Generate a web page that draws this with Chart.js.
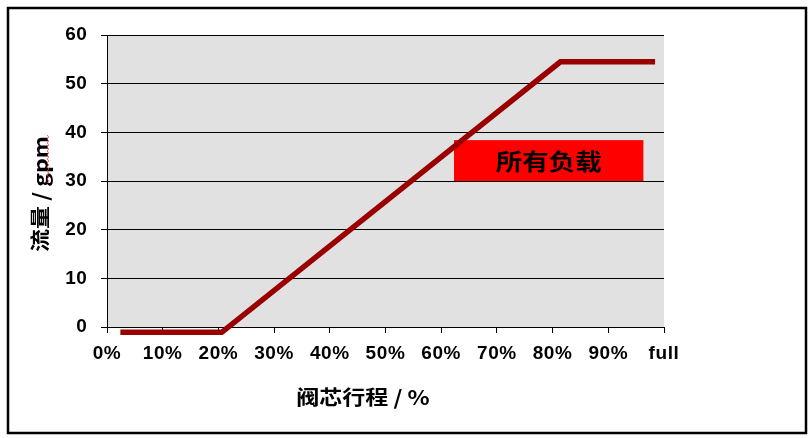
<!DOCTYPE html>
<html>
<head>
<meta charset="utf-8">
<script src="https://cdn.jsdelivr.net/npm/chart.js@4.4.1/dist/chart.umd.min.js"></script>
<style>
  html, body { margin: 0; padding: 0; background: #ffffff; }
  #wrap { width: 812px; height: 438px; }
</style>
</head>
<body>
<div id="wrap"><canvas id="c" width="812" height="438"></canvas></div>
<script>
// ---- data ----
const xTickLabels = ['0%', '10%', '20%', '30%', '40%', '50%', '60%', '70%', '80%', '90%', 'full'];
const strokePct = [2.4, 20.6, 81.4, 98.4];
const flowGpm = [-1.1, -1.1, 54.5, 54.5];
const yTicks = [0, 10, 20, 30, 40, 50, 60];
const boxLabel = '所有负载';
const boxX = [62.3, 96.3];
const boxY = [30, 38.4];
const xTitle = '阀芯行程 / %';
const yTitle = '流量 / gpm';

const LATIN = '"Liberation Sans", Arial, sans-serif';
const CJK = '"Noto Sans CJK SC", "Liberation Sans", sans-serif';

function wideText(ctx, text, x, y, sx) {
  ctx.save();
  ctx.translate(x, y);
  ctx.scale(sx, 1);
  ctx.fillText(text, 0, 0);
  ctx.restore();
}

const framePlugin = {
  id: 'framePlugin',
  beforeDraw(chart) {
    const ctx = chart.ctx, a = chart.chartArea;
    ctx.fillStyle = '#ffffff';
    ctx.fillRect(0, 0, chart.width, chart.height);
    ctx.fillStyle = '#e1e1e1';
    ctx.fillRect(a.left, a.top, a.right - a.left, a.bottom - a.top);
    ctx.letterSpacing = '0.6px';
  },
  beforeDatasetsDraw(chart) {
    const ctx = chart.ctx;
    const xs = chart.scales.x, ys = chart.scales.y;
    const x0 = xs.getPixelForValue(boxX[0]), x1 = xs.getPixelForValue(boxX[1]);
    const y0 = ys.getPixelForValue(boxY[1]), y1 = ys.getPixelForValue(boxY[0]);
    ctx.save();
    ctx.fillStyle = '#ff0000';
    ctx.fillRect(x0, y0, x1 - x0, y1 - y0);
    ctx.fillStyle = '#000000';
    ctx.font = 'bold 23px ' + CJK;
    ctx.letterSpacing = '0px';
    ctx.textAlign = 'center';
    ctx.textBaseline = 'middle';
    wideText(ctx, boxLabel, (x0 + x1) / 2, (y0 + y1) / 2 + 1, 1.15);
    ctx.restore();
  },
  afterDraw(chart) {
    const ctx = chart.ctx;
    ctx.save();
    ctx.letterSpacing = '0px';
    // outer frame
    ctx.strokeStyle = '#000000';
    ctx.lineWidth = 2.5;
    ctx.strokeRect(8, 8, 798, 425);
    // axis titles
    ctx.fillStyle = '#000000';
    ctx.textBaseline = 'middle';
    ctx.textAlign = 'center';
    ctx.font = 'bold 20px ' + CJK;
    wideText(ctx, xTitle, 363, 397, 1.15);
    ctx.save();
    ctx.translate(40, 194);
    ctx.rotate(-Math.PI / 2);
    wideText(ctx, yTitle, 0, 0, 1.15);
    ctx.restore();
    // spell-check squiggle along "gpm"
    ctx.strokeStyle = '#ff4444';
    ctx.lineWidth = 0.8;
    ctx.beginPath();
    for (let y = 135, k = 0; y <= 183; y += 2, k++) {
      const x = 48 + (k % 2 ? 0.8 : -0.8);
      if (k === 0) ctx.moveTo(x, y); else ctx.lineTo(x, y);
    }
    ctx.stroke();
    ctx.restore();
  }
};

new Chart(document.getElementById('c'), {
  type: 'line',
  data: {
    datasets: [{
      data: strokePct.map((x, i) => ({ x: x, y: flowGpm[i] })),
      borderColor: '#990000',
      borderWidth: 5.5,
      pointRadius: 0,
      tension: 0,
      fill: false,
      clip: false,
      borderCapStyle: 'butt',
      borderJoinStyle: 'miter'
    }]
  },
  options: {
    responsive: false,
    animation: false,
    devicePixelRatio: 1,
    layout: { padding: { left: 0, right: 148, top: 35, bottom: 0 } },
    plugins: { legend: { display: false }, tooltip: { enabled: false } },
    scales: {
      x: {
        type: 'linear',
        min: 0, max: 100,
        afterFit(scale) { scale.height = 111; },
        afterBuildTicks(scale) { scale.ticks = xTickLabels.map((_, i) => ({ value: i * 10 })); },
        ticks: {
          color: '#000000',
          font: { family: LATIN, size: 19, weight: 'bold' },
          padding: 9,
          maxRotation: 0,
          autoSkip: false,
          callback: (v, i) => xTickLabels[i]
        },
        grid: { drawOnChartArea: false, drawTicks: true, tickLength: 6, color: '#000000', lineWidth: 1 },
        border: { display: true, color: '#000000', width: 1 }
      },
      y: {
        min: 0, max: 60,
        afterFit(scale) { scale.width = 107; },
        afterBuildTicks(scale) { scale.ticks = yTicks.map(v => ({ value: v })); },
        ticks: {
          color: '#000000',
          font: { family: LATIN, size: 19, weight: 'bold' },
          padding: 13.5,
          callback: v => String(v)
        },
        grid: { color: '#000000', lineWidth: 1, drawTicks: true, tickLength: 6 },
        border: { display: true, color: '#000000', width: 1 }
      }
    }
  },
  plugins: [framePlugin]
});
</script>
</body>
</html>
